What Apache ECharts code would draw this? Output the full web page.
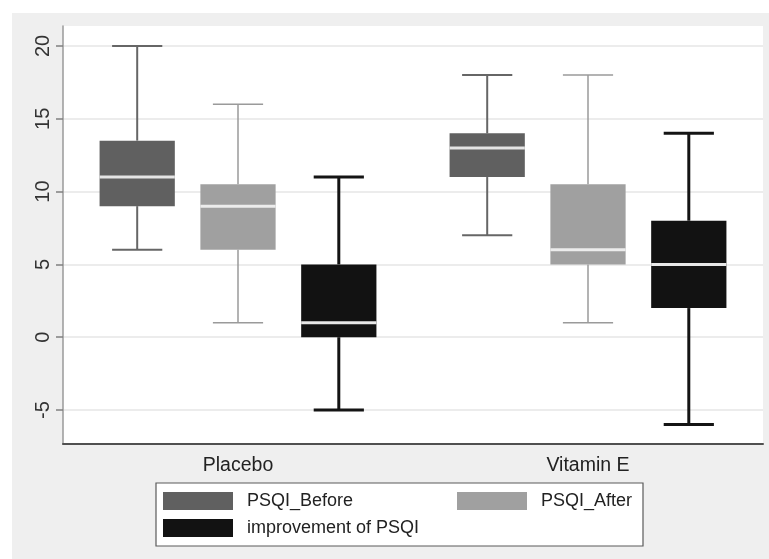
<!DOCTYPE html>
<html>
<head>
<meta charset="utf-8">
<script src="https://cdn.jsdelivr.net/npm/echarts@6/dist/echarts.min.js"></script>
<style>
html,body{margin:0;padding:0;background:#fff;}
#c{width:769px;height:559px;}
</style>
</head>
<body>
<div id="c"></div>
<script>
// ---- data ----
const categories = ['Placebo', 'Vitamin E'];
// [min, Q1, median, Q3, max]
const psqiBefore = [[6, 9, 11, 13.5, 20], [7, 11, 13, 14, 18]];
const psqiAfter = [[1, 6, 9, 10.5, 16], [1, 5, 6, 10.5, 18]];
const improvement = [[-5, 0, 1, 5, 11], [-6, 2, 5, 8, 14]];
const seriesNames = ['PSQI_Before', 'PSQI_After', 'improvement of PSQI'];
const yTicks = [-5, 0, 5, 10, 15, 20];

// ---- styles ----
const styles = [
  { fill: '#606060', whisker: '#666666', wWidth: 2, median: '#e4e4e4' },
  { fill: '#a0a0a0', whisker: '#9a9a9a', wWidth: 1.5, median: '#ececec' },
  { fill: '#121212', whisker: '#141414', wWidth: 3, median: '#e8e8e8' }
];
const FONT = '"Liberation Sans", Arial, Helvetica, sans-serif';

// grid geometry: labelled grid spans -5..20 over 364px
const pxPerUnit = 364 / 25;
const yMax = 20 + 20 / pxPerUnit;
const yMin = -5 - 34 / pxPerUnit;

function makeSeries(idx, arr) {
  const st = styles[idx];
  return {
    type: 'custom',
    name: seriesNames[idx],
    xAxisIndex: 0,
    yAxisIndex: 0,
    z: 5,
    itemStyle: { color: st.fill },
    data: arr.map((d, i) => [i].concat(d)),
    encode: { x: 0, y: [1, 2, 3, 4, 5] },
    renderItem: function (params, api) {
      const cat = api.value(0);
      const vals = [api.value(1), api.value(2), api.value(3), api.value(4), api.value(5)];
      const bw = api.size([1, 0])[0];
      const boxW = bw * 0.215;
      const spacing = bw * 0.288;
      const capW = boxW * 0.667;
      const cx0 = api.coord([cat, vals[2]])[0];
      const cx = cx0 + (idx - 1) * spacing;
      const y = vals.map(v => api.coord([cat, v])[1]);
      const wStyle = { stroke: st.whisker, lineWidth: st.wWidth };
      return {
        type: 'group',
        children: [
          { type: 'line', shape: { x1: cx, y1: y[4], x2: cx, y2: y[3] }, style: wStyle },
          { type: 'line', shape: { x1: cx, y1: y[1], x2: cx, y2: y[0] }, style: wStyle },
          { type: 'line', shape: { x1: cx - capW / 2, y1: y[4], x2: cx + capW / 2, y2: y[4] }, style: wStyle },
          { type: 'line', shape: { x1: cx - capW / 2, y1: y[0], x2: cx + capW / 2, y2: y[0] }, style: wStyle },
          { type: 'rect', shape: { x: cx - boxW / 2, y: y[3], width: boxW, height: y[1] - y[3] }, style: { fill: st.fill } },
          { type: 'line', shape: { x1: cx - boxW / 2, y1: y[2], x2: cx + boxW / 2, y2: y[2] }, style: { stroke: st.median, lineWidth: 3 } }
        ]
      };
    }
  };
}

const chart = echarts.init(document.getElementById('c'), null, { renderer: 'canvas' });
chart.setOption({
  animation: false,
  backgroundColor: '#ffffff',
  graphic: [
    { type: 'rect', z: -10, shape: { x: 12, y: 13, width: 757, height: 546 }, style: { fill: '#efefef' } },
    { type: 'rect', z: 1, shape: { x: 156, y: 483, width: 487, height: 63 }, style: { fill: '#ffffff', stroke: '#5a5a5a', lineWidth: 1.2 } }
  ],
  grid: [
    { left: 63, right: 6, top: 26, bottom: 115, show: true, backgroundColor: '#ffffff', borderWidth: 0, z: 0 },
    { left: 63, right: 6, top: 46, bottom: 149 }
  ],
  xAxis: [
    {
      gridIndex: 0, type: 'category', data: categories,
      axisLine: { onZero: false, lineStyle: { color: '#505050', width: 2 } },
      axisTick: { show: false },
      axisLabel: { fontFamily: FONT, fontSize: 19.5, color: '#222', margin: 12 },
      splitLine: { show: false }
    },
    { gridIndex: 1, type: 'value', show: false }
  ],
  yAxis: [
    {
      gridIndex: 0, type: 'value', min: yMin, max: yMax,
      axisLine: { show: true, onZero: false, lineStyle: { color: '#9a9a9a', width: 1.5 } },
      axisTick: { show: false }, axisLabel: { show: false }, splitLine: { show: false }
    },
    {
      gridIndex: 1, type: 'value', min: yTicks[0], max: yTicks[yTicks.length - 1], interval: 5,
      axisLine: { show: false },
      axisTick: { show: true, length: 7, lineStyle: { color: '#808080', width: 1.5 } },
      axisLabel: { rotate: 90, fontFamily: FONT, fontSize: 20, color: '#333', margin: 10 },
      splitLine: { show: true, lineStyle: { color: '#e6e6e6', width: 1.5 } }
    }
  ],
  legend: [
    {
      left: 163, top: 492, orient: 'vertical', padding: 0, itemGap: 9,
      itemWidth: 70, itemHeight: 18, icon: 'rect', z: 5,
      textStyle: { fontFamily: FONT, fontSize: 18, color: '#222', padding: [0, 0, 0, 9] },
      data: [
        { name: seriesNames[0], itemStyle: { color: styles[0].fill } },
        { name: seriesNames[2], itemStyle: { color: styles[2].fill } }
      ]
    },
    {
      left: 457, top: 492, orient: 'vertical', padding: 0, itemGap: 9,
      itemWidth: 70, itemHeight: 18, icon: 'rect', z: 5,
      textStyle: { fontFamily: FONT, fontSize: 18, color: '#222', padding: [0, 0, 0, 9] },
      data: [
        { name: seriesNames[1], itemStyle: { color: styles[1].fill } }
      ]
    }
  ],
  series: [
    makeSeries(0, psqiBefore),
    makeSeries(1, psqiAfter),
    makeSeries(2, improvement)
  ]
});
</script>
</body>
</html>
